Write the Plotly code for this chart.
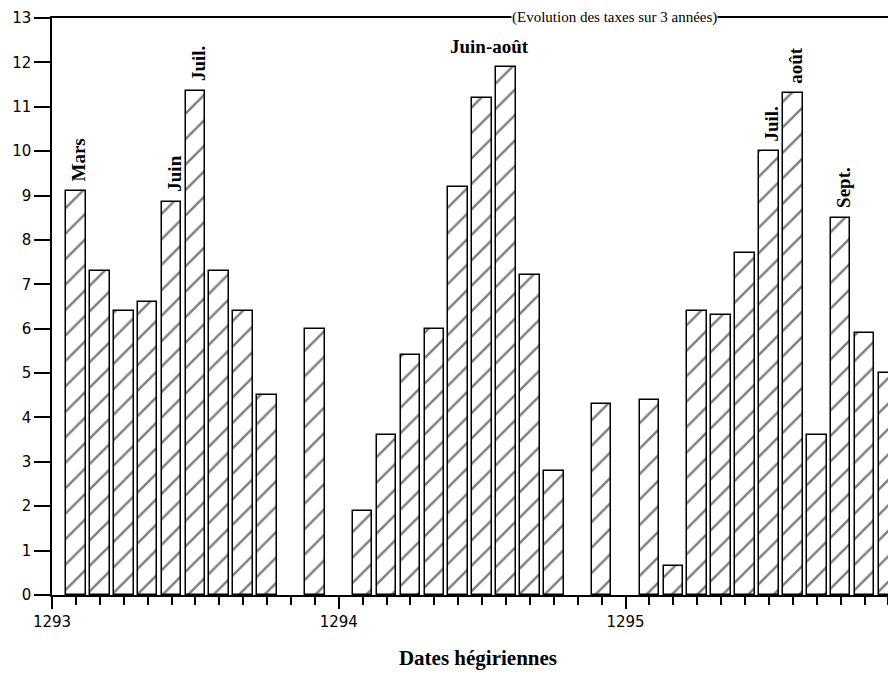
import plotly.graph_objects as go

# Monthly slots within each hegira year (0 = start of the year)
month_slots = [1, 2, 3, 4, 5, 6, 7, 8, 9, 10, 11]
years = [1293, 1294, 1295]

# Tax levels (None = no bar)
taxes_1293 = [9.1, 7.3, 6.4, 6.6, 8.85, 11.35, 7.3, 6.4, 4.5, None, 6.0]
taxes_1294 = [1.9, 3.6, 5.4, 6.0, 9.2, 11.2, 11.9, 7.2, 2.8, None, 4.3]
taxes_1295 = [4.4, 0.65, 6.4, 6.3, 7.7, 10.0, 11.3, 3.6, 8.5, 5.9, 5.0]

# Month names written above some bars: (year, slot, text)
bar_labels = [
    (1293, 1, "Mars"),
    (1293, 5, "Juin"),
    (1293, 6, "Juil."),
    (1295, 6, "Juil."),
    (1295, 7, "août"),
    (1295, 9, "Sept."),
]

x_vals, y_vals = [], []
for yr, series in zip(years, [taxes_1293, taxes_1294, taxes_1295]):
    for m, v in zip(month_slots, series):
        if v is not None:
            x_vals.append((yr - years[0]) * 12 + m)
            y_vals.append(v)

fig = go.Figure()
fig.add_trace(go.Bar(
    x=x_vals,
    y=y_vals,
    width=0.82,
    marker=dict(
        color="white",
        line=dict(color="black", width=1.5),
        pattern=dict(shape="/", fgcolor="black", bgcolor="white",
                     size=18, solidity=0.14),
    ),
    showlegend=False,
))

lookup = {}
for yr, series in zip(years, [taxes_1293, taxes_1294, taxes_1295]):
    for m, v in zip(month_slots, series):
        lookup[(yr, m)] = v

label_font = dict(family="Liberation Serif", size=19, color="black")
for yr, m, txt in bar_labels:
    fig.add_annotation(
        x=(yr - years[0]) * 12 + m, y=lookup[(yr, m)],
        text="<b>%s</b>" % txt, textangle=-90, showarrow=False,
        xanchor="center", yanchor="bottom", xshift=3, yshift=8,
        font=label_font,
    )

# horizontal label over the 1294 summer peak
fig.add_annotation(
    x=18.3, y=12.35, text="<b>Juin-août</b>", showarrow=False,
    font=label_font,
)

# title squeezed in at the very top of the page
fig.add_annotation(
    xref="paper", yref="paper", x=0.66, y=1 + 10 / 577,
    text="(Evolution des taxes sur 3 années)", showarrow=False,
    xanchor="center", yanchor="top", borderpad=0, bgcolor="white",
    font=dict(family="Liberation Serif", size=15, color="black"),
)

# page body adds an 8px margin; the plot runs off the right edge like the scan
fig.update_layout(
    width=896, height=663,
    margin=dict(l=44, r=0, t=10, b=76),
    paper_bgcolor="white",
    plot_bgcolor="white",
    bargap=0,
    xaxis=dict(
        range=[0, 35.65],
        automargin=False,
        tickvals=[0, 12, 24],
        ticktext=[str(y) for y in years],
        ticks="outside", ticklen=12, tickwidth=1.5, tickcolor="black",
        minor=dict(dtick=1, ticks="outside", ticklen=8, tickwidth=1.5,
                   tickcolor="black"),
        showline=True, linecolor="black", linewidth=2, mirror=True,
        showgrid=False, zeroline=False,
        tickfont=dict(family="DejaVu Sans", size=15, color="black"),
        title=dict(text="<b>Dates hégiriennes</b>", standoff=20,
                   font=dict(family="Liberation Serif", size=21,
                             color="black")),
    ),
    yaxis=dict(
        range=[0, 13],
        automargin=False,
        tickvals=list(range(0, 14)),
        ticks="outside", ticklen=16, tickwidth=1.5, tickcolor="black",
        showline=True, linecolor="black", linewidth=1.5,
        showgrid=False, zeroline=False,
        tickfont=dict(family="DejaVu Sans", size=15, color="black"),
    ),
)

fig.write_html("out.html")
